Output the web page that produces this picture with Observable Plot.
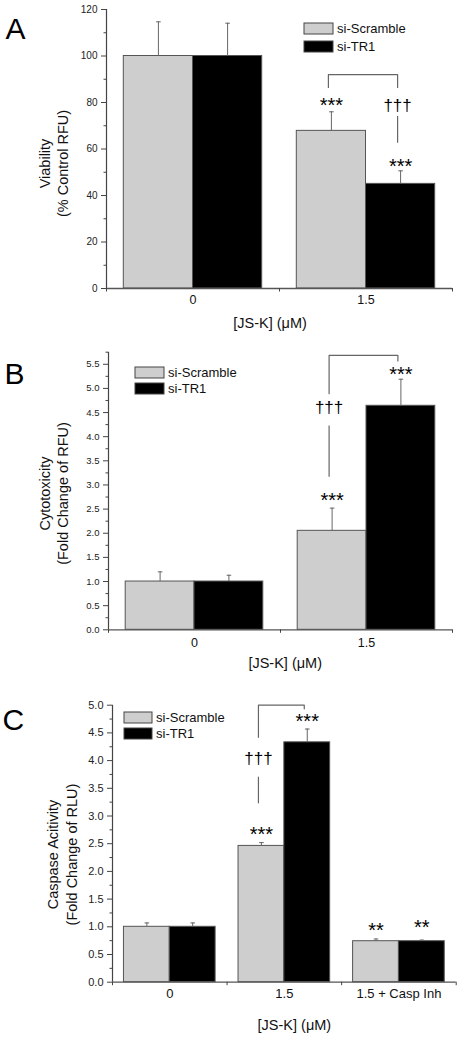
<!DOCTYPE html>
<html><head><meta charset="utf-8">
<script src="https://cdn.jsdelivr.net/npm/d3@7"></script>
<script src="https://cdn.jsdelivr.net/npm/@observablehq/plot@0.6"></script>
<style>
body{margin:0;background:#fff;font-family:"Liberation Sans",Arial,sans-serif;}
.panel{position:relative;width:461px;}
.panel svg{display:block;}
.lgwrap{position:absolute;width:150px;margin:0 !important;}
.lgwrap div{overflow:visible !important;text-overflow:clip !important;}
.lgwrap .lg-swatch{padding:0 !important;margin:0 !important;display:flex;align-items:center;}
.lgwrap svg{margin-right:4px !important;overflow:visible;}
.lgwrap svg rect{stroke:#444;stroke-width:1px;}
</style></head><body>
<div id="chart"></div>
<script>
// ---------- data ----------
const series = ["si-Scramble", "si-TR1"];
const seriesColors = ["#cecece", "#000000"];
const xAxisLabel = "[JS-K] (\u03bcM)";

// Panel A
const catsA = ["0", "1.5"];
const scrambleA = [100, 67.8];
const scrambleErrA = [14.7, 8.2];
const tr1A = [100, 45];
const tr1ErrA = [14.1, 5.6];
const yTicksA = [0, 20, 40, 60, 80, 100, 120];
const yMinorA = [10, 30, 50, 70, 90, 110];
const starsA = [{cat: 1, s: 0, text: "***", y: 78.6}, {cat: 1, s: 1, text: "***", y: 52.3}];
const daggersA = [{cat: 1, s: 1, text: "\u2020\u2020\u2020", y: 78.7}];
const daggerLineA = [{cat: 1, s: 1, y1: 74, y2: 62.5}];
const bracketA = [{cat: 1, s: 0, y: 86.5}, {cat: 1, s: 0, y: 92}, {cat: 1, s: 1, y: 92}, {cat: 1, s: 1, y: 86.5}];

// Panel B
const catsB = ["0", "1.5"];
const scrambleB = [1.0, 2.05];
const scrambleErrB = [0.2, 0.47];
const tr1B = [1.0, 4.64];
const tr1ErrB = [0.13, 0.55];
const yTicksB = [0, 0.5, 1, 1.5, 2, 2.5, 3, 3.5, 4, 4.5, 5, 5.5];
const yMinorB = [0.25, 0.75, 1.25, 1.75, 2.25, 2.75, 3.25, 3.75, 4.25, 4.75, 5.25, 5.75];
const starsB = [{cat: 1, s: 0, text: "***", y: 2.68}, {cat: 1, s: 1, text: "***", y: 5.29}];
const daggersB = [{cat: 1, s: 0, text: "\u2020\u2020\u2020", y: 4.60}];
const daggerLineB = [{cat: 1, s: 0, y1: 4.22, y2: 3.16}];
const bracketB = [{cat: 1, s: 0, y: 4.89}, {cat: 1, s: 0, y: 5.686}, {cat: 1, s: 1, y: 5.686}, {cat: 1, s: 1, y: 5.57}];

// Panel C
const catsC = ["0", "1.5", "1.5 + Casp Inh"];
const scrambleC = [1.0, 2.46, 0.74];
const scrambleErrC = [0.07, 0.06, 0.04];
const tr1C = [1.0, 4.33, 0.74];
const tr1ErrC = [0.07, 0.24, 0.02];
const yTicksC = [0, 0.5, 1, 1.5, 2, 2.5, 3, 3.5, 4, 4.5, 5];
const yMinorC = [0.25, 0.75, 1.25, 1.75, 2.25, 2.75, 3.25, 3.75, 4.25, 4.75];
const starsC = [{cat: 1, s: 0, text: "***", y: 2.67}, {cat: 1, s: 1, text: "***", y: 4.70},
                {cat: 2, s: 0, text: "**", y: 0.94}, {cat: 2, s: 1, text: "**", y: 0.98}];
const daggersC = [{cat: 1, s: 0, text: "\u2020\u2020\u2020", y: 4.03}];
const daggerLineC = [{cat: 1, s: 0, y1: 3.70, y2: 3.22}];
const bracketC = [{cat: 1, s: 0, y: 4.42}, {cat: 1, s: 0, y: 5.0}, {cat: 1, s: 1, y: 5.0}, {cat: 1, s: 1, y: 4.935}];

// ---------- drawing ----------
const barWidth = 0.4;
const xc = (c, s) => c + barWidth * (s - 0.5);
const capSymbol = {draw(ctx, size) { const r = Math.sqrt(size / Math.PI); ctx.moveTo(-r, 0); ctx.lineTo(r, 0); }};
const FONT = "'Liberation Sans', Arial, Helvetica, sans-serif";

function panel(cfg) {
  const n = cfg.cats.length;
  const rows = [];
  cfg.cats.forEach((cat, c) => {
    series.forEach((name, s) => {
      rows.push({cat, c, series: name, value: cfg.values[s][c], err: cfg.errors[s][c],
                 x1: c + barWidth * (s - 1), x2: c + barWidth * s, xc: xc(c, s)});
    });
  });
  const pos = (d) => xc(d.cat, d.s);
  const svg = Plot.plot({
    width: 461, height: cfg.height,
    marginTop: cfg.m[0], marginRight: cfg.m[1], marginBottom: cfg.m[2], marginLeft: cfg.m[3],
    x: {type: "linear", domain: [-0.5, n - 0.5]},
    y: {domain: [0, cfg.yMax]},
    color: {domain: series, range: seriesColors},
    style: {fontFamily: FONT, background: "#fff", color: "#111", overflow: "visible"},
    marks: [
      Plot.rect(rows, {x1: "x1", x2: "x2", y1: 0, y2: "value", fill: "series", stroke: "#555", strokeWidth: 1}),
      Plot.ruleX(rows, {x: "xc", y1: "value", y2: (d) => d.value + d.err, stroke: "#666", strokeWidth: 1}),
      Plot.dot(rows, {x: "xc", y: (d) => d.value + d.err, symbol: capSymbol, r: 2.3, stroke: "#666", fill: "none", strokeWidth: 1}),
      // axes
      Plot.ruleX([-0.5], {y1: 0, y2: cfg.yMax, stroke: "#444", strokeWidth: 1.2}),
      Plot.ruleY([0], {x1: -0.5, x2: n - 0.5, stroke: "#555", strokeWidth: 1.3}),
      Plot.axisY({ticks: cfg.yTicks, tickSize: 5, tickPadding: 4, tickFormat: cfg.yFormat, fontSize: cfg.yFont, label: null, stroke: "#444", fill: "#222"}),
      Plot.axisY({ticks: cfg.yMinor, tickSize: 2.5, label: null, stroke: "#444", fill: "none"}),
      Plot.axisX({ticks: d3.range(n + 1).map((i) => i - 0.5), tickSize: 3.5, label: null, stroke: "#444", fill: "none"}),
      Plot.axisX({ticks: d3.range(n), tickSize: 0, tickPadding: cfg.xPad, tickFormat: (i) => cfg.cats[Math.round(i)], fontSize: cfg.xFont, label: null, fill: "#111"}),
      // annotations
      Plot.line(cfg.bracket, {x: pos, y: "y", stroke: "#666", strokeWidth: 1.2, dx: -3}),
      Plot.ruleX(cfg.daggerLine, {x: pos, y1: "y1", y2: "y2", stroke: "#666", strokeWidth: 1.2, dx: -3}),
      Plot.text(cfg.daggers, {x: pos, y: "y", text: "text", fontSize: 17, dx: -3, fill: "#000"}),
      Plot.text(cfg.stars, {x: pos, y: "y", text: "text", fontSize: 20, fill: "#000"}),
      // labels
      Plot.text([cfg.yLabel], {text: (d) => d, frameAnchor: "left", textAnchor: "middle", lineAnchor: "middle", rotate: -90, dx: cfg.yLab[0], dy: cfg.yLab[1], fontSize: 14.5, lineHeight: 1.3, fill: "#111"}),
      Plot.text([xAxisLabel], {text: (d) => d, frameAnchor: "bottom", textAnchor: "middle", lineAnchor: "middle", dx: cfg.xLab[0], dy: cfg.xLab[1], fontSize: 14.5, fill: "#111"}),
      Plot.text([cfg.letter], {text: (d) => d, frameAnchor: "top-left", textAnchor: "start", lineAnchor: "top", dx: cfg.letterPos[0], dy: cfg.letterPos[1], fontSize: 30, fill: "#000"})
    ]
  });
  const wrap = document.createElement("div");
  wrap.className = "panel";
  wrap.appendChild(svg);
  const lg = Plot.legend({color: {domain: series, range: seriesColors}, legend: "swatches", columns: 1, swatchWidth: cfg.sw, swatchHeight: 11, className: "lg"});
  const lgw = document.createElement("div");
  lgw.className = "lgwrap";
  lgw.style.left = cfg.lgPos[0] + "px";
  lgw.style.top = cfg.lgPos[1] + "px";
  lg.style.fontFamily = FONT;
  lg.style.fontSize = "13px";
  lg.style.color = "#111";
  lg.style.margin = "0";
  lg.querySelectorAll(".lg-swatch").forEach((el) => { el.style.height = cfg.rowH + "px"; });
  lgw.appendChild(lg);
  wrap.appendChild(lgw);
  return wrap;
}

const root = document.getElementById("chart");
const fmt1 = d3.format(".1f");
root.appendChild(panel({
  letter: "A", cats: catsA, values: [scrambleA, tr1A], errors: [scrambleErrA, tr1ErrA],
  height: 340, m: [9, 9, 52, 106], yMax: 120, yTicks: yTicksA, yMinor: yMinorA, yFormat: d3.format("d"), yFont: 10,
  xPad: 7, xFont: 12.5, yLabel: "Viability\n(% Control RFU)", yLab: [-53.5, 14.5], xLab: [-9.5, 35],
  letterPos: [-101, 8], stars: starsA, daggers: daggersA, daggerLine: daggerLineA, bracket: bracketA,
  lgPos: [304, 19.2], rowH: 18, sw: 29
}));
root.appendChild(panel({
  letter: "B", cats: catsB, values: [scrambleB, tr1B], errors: [scrambleErrB, tr1ErrB],
  height: 340, m: [11.7, 9, 50.7, 108], yMax: 5.75, yTicks: yTicksB, yMinor: yMinorB, yFormat: fmt1, yFont: 9.5,
  xPad: 8, xFont: 12.5, yLabel: "Cytotoxicity\n(Fold Change of RFU)", yLab: [-55.5, 2.5], xLab: [4.7, 33.7],
  letterPos: [-104, 10], stars: starsB, daggers: daggersB, daggerLine: daggerLineB, bracket: bracketB,
  lgPos: [135, 24], rowH: 16, sw: 29
}));
root.appendChild(panel({
  letter: "C", cats: catsC, values: [scrambleC, tr1C], errors: [scrambleErrC, tr1ErrC],
  height: 357, m: [24.7, 5.3, 55.3, 112], yMax: 5.0, yTicks: yTicksC, yMinor: yMinorC, yFormat: fmt1, yFont: 11,
  xPad: 7, xFont: 13, yLabel: "Caspase Acitivity\n(Fold Change of RLU)", yLab: [-50.7, 10.8], xLab: [10, 43.3],
  letterPos: [-110, 3.6], stars: starsC, daggers: daggersC, daggerLine: daggerLineC, bracket: bracketC,
  lgPos: [124, 28.7], rowH: 16.7, sw: 28
}));
</script>
</body></html>
